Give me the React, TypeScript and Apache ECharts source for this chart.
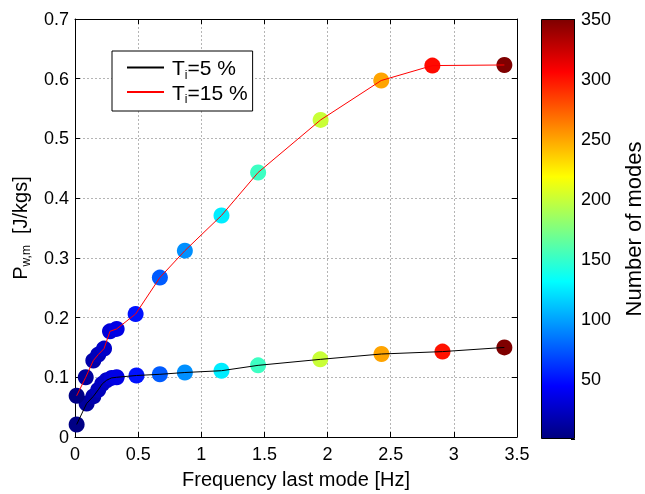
import React, { useEffect, useRef } from "react";
import * as echarts from "echarts";

// T_i = 15 %
const redFreq = [0.013, 0.085, 0.145, 0.184, 0.23, 0.277, 0.33, 0.48, 0.672, 0.87, 1.16, 1.45, 1.945, 2.425, 2.83, 3.40];
const redPower = [0.069, 0.100, 0.128, 0.138, 0.148, 0.177, 0.181, 0.206, 0.267, 0.312, 0.371, 0.443, 0.531, 0.597, 0.622, 0.623];
const redModes = [2, 10, 15, 20, 25, 30, 35, 50, 75, 93, 125, 152, 200, 250, 303, 350];

// T_i = 5 %
const blackFreq = [0.013, 0.092, 0.145, 0.184, 0.216, 0.25, 0.29, 0.33, 0.487, 0.672, 0.87, 1.16, 1.45, 1.942, 2.427, 2.91, 3.40];
const blackPower = [0.021, 0.056, 0.068, 0.079, 0.089, 0.095, 0.099, 0.100, 0.103, 0.105, 0.108, 0.111, 0.120, 0.130, 0.139, 0.143, 0.150];
const blackModes = [2, 10, 15, 20, 22, 25, 30, 35, 50, 75, 93, 125, 152, 200, 250, 300, 350];

const xTicks = { min: 0, max: 3.5, interval: 0.5 };
const yTicks = { min: 0, max: 0.7, interval: 0.1 };
const cbTicks = { min: 0, max: 350, interval: 50 };

const jet = ["#00007F", "#0000FF", "#0080FF", "#00FFFF", "#80FF80", "#FFFF00", "#FF8000", "#FF0000", "#7F0000"];

const FONT = "Liberation Sans, Arial, sans-serif";

export default function App() {
  const ref = useRef<HTMLDivElement>(null);
  useEffect(() => {
    if (!ref.current) return;
    const chart = echarts.init(ref.current, null, { renderer: "svg" });
    const zip = (xs: number[], ys: number[]) => xs.map((x, i) => [x, ys[i]]);
    const zip3 = (xs: number[], ys: number[], ms: number[]) => xs.map((x, i) => [x, ys[i], ms[i]]);
    const gridLine = { show: true, lineStyle: { color: "#b5b5b5", type: [2, 2] as any, width: 1 } };
    const axisBase = {
      type: "value" as const,
      axisLine: { show: true, onZero: false, lineStyle: { color: "#000", width: 1 } },
      axisTick: { show: true, inside: true, length: 5, lineStyle: { color: "#000" } },
    };
    chart.setOption({
      animation: false,
      textStyle: { fontFamily: FONT },
      grid: [
        { left: 75, right: 128, top: 19, bottom: 55 },
        { left: 541, width: 35, top: 19, bottom: 55 },
      ],
      legend: {
        data: ["T5", "T15"],
        orient: "vertical",
        left: 112,
        top: 51,
        backgroundColor: "#fff",
        borderColor: "#000",
        borderWidth: 1,
        borderRadius: 0,
        padding: [6, 5, 6, 14],
        itemGap: 1,
        itemWidth: 37,
        itemHeight: 1,
        textStyle: {
          fontSize: 21,
          color: "#000",
          fontFamily: FONT,
          rich: {
            t: { fontSize: 21, lineHeight: 26, color: "#000", fontFamily: FONT, padding: [0, 0, 0, 3] },
            n: { fontSize: 21, lineHeight: 26, color: "#000", fontFamily: FONT },
            s: { fontSize: 12, lineHeight: 13, color: "#000", fontFamily: FONT, verticalAlign: "bottom" },
          },
        },
        formatter: (name: string) => (name === "T5" ? "{t|T}{s|i}{n|=5 %}" : "{t|T}{s|i}{n|=15 %}"),
      },
      visualMap: {
        type: "continuous",
        show: false,
        min: cbTicks.min,
        max: cbTicks.max,
        dimension: 2,
        seriesIndex: [2, 3],
        inRange: { color: jet },
      },
      xAxis: [
        {
          ...axisBase,
          gridIndex: 0,
          position: "bottom",
          ...xTicks,
          splitLine: gridLine,
          axisLabel: { fontSize: 18, color: "#000", margin: 8, fontFamily: FONT },
          name: "Frequency last mode [Hz]",
          nameLocation: "middle",
          nameGap: 32,
          nameTextStyle: { fontSize: 20, color: "#000", fontFamily: FONT },
        },
        {
          ...axisBase,
          gridIndex: 0,
          position: "top",
          ...xTicks,
          splitLine: { show: false },
          axisLabel: { show: false },
        },
        {
          type: "category",
          gridIndex: 1,
          data: ["cb"],
          show: false,
          boundaryGap: true,
        },
      ],
      yAxis: [
        {
          ...axisBase,
          gridIndex: 0,
          position: "left",
          ...yTicks,
          splitLine: gridLine,
          axisLabel: { fontSize: 18, color: "#000", margin: 6, fontFamily: FONT },
          name: "{a|P}{b|w,m}{a|  [J/kgs]}",
          nameLocation: "middle",
          nameGap: 43,
          nameRotate: 90,
          nameTextStyle: {
            rich: {
              a: { fontSize: 20, lineHeight: 24, color: "#000", fontFamily: FONT },
              b: { fontSize: 12, lineHeight: 12, color: "#000", fontFamily: FONT, verticalAlign: "bottom" },
            },
          },
        },
        {
          ...axisBase,
          gridIndex: 0,
          position: "right",
          ...yTicks,
          splitLine: { show: false },
          axisLabel: { show: false },
        },
        {
          ...axisBase,
          gridIndex: 1,
          position: "right",
          ...cbTicks,
          splitLine: { show: false },
          axisTick: { show: true, inside: true, length: 4, lineStyle: { color: "#000" } },
          axisLine: { show: false },
          axisLabel: {
            fontSize: 18,
            color: "#000",
            margin: 6,
            fontFamily: FONT,
            formatter: (v: number) => (v === 0 ? "" : String(v)),
          },
          name: "Number of modes",
          nameLocation: "middle",
          nameGap: 47,
          nameRotate: 90,
          nameTextStyle: { fontSize: 22, color: "#000", fontFamily: FONT },
        },
      ],
      series: [
        {
          name: "T5",
          type: "line",
          xAxisIndex: 0,
          yAxisIndex: 0,
          data: zip(blackFreq, blackPower),
          symbol: "none",
          lineStyle: { color: "#000", width: 1 },
          itemStyle: { color: "#000" },
          z: 5,
        },
        {
          name: "T15",
          type: "line",
          xAxisIndex: 0,
          yAxisIndex: 0,
          data: zip(redFreq, redPower),
          symbol: "none",
          lineStyle: { color: "#ff0000", width: 1 },
          itemStyle: { color: "#ff0000" },
          z: 5,
        },
        {
          name: "pts5",
          type: "scatter",
          xAxisIndex: 0,
          yAxisIndex: 0,
          data: zip3(blackFreq, blackPower, blackModes),
          symbolSize: 16,
          itemStyle: { opacity: 1 },
          z: 3,
        },
        {
          name: "pts15",
          type: "scatter",
          xAxisIndex: 0,
          yAxisIndex: 0,
          data: zip3(redFreq, redPower, redModes),
          symbolSize: 16,
          itemStyle: { opacity: 1 },
          z: 3,
        },
        {
          name: "colorbar",
          type: "bar",
          xAxisIndex: 2,
          yAxisIndex: 2,
          data: [cbTicks.max],
          barWidth: "100%",
          itemStyle: {
            color: new echarts.graphic.LinearGradient(
              0, 1, 0, 0,
              jet.map((c, i) => ({ offset: i / (jet.length - 1), color: c }))
            ),
            borderColor: "#000",
            borderWidth: 1,
          },
          z: 1,
        },
      ],
    });
    return () => chart.dispose();
  }, []);
  return <div ref={ref} style={{ position: "fixed", left: 0, top: 0, width: 645, height: 494 }} />;
}
